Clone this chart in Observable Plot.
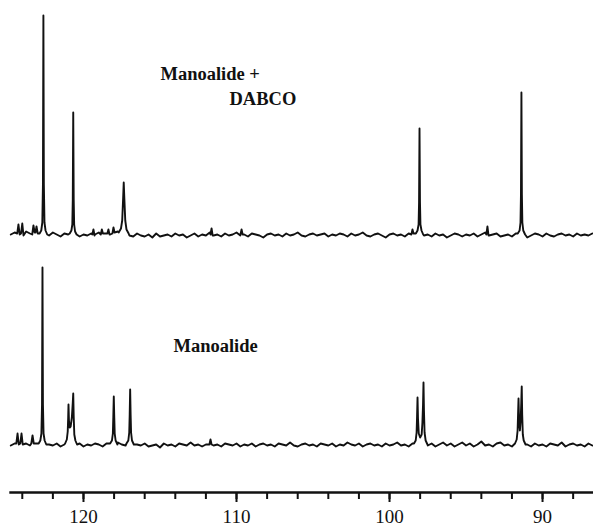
<!DOCTYPE html>
<html><head><meta charset="utf-8">
<script src="https://cdn.jsdelivr.net/npm/d3@7"></script>
<script src="https://cdn.jsdelivr.net/npm/@observablehq/plot@0.6"></script>
<style>body{margin:0;background:#fff}</style>
</head><body><div id="chart"></div>
<script>
// Sampled chemical-shift grid (ppm), read along the baseline
const gridPpm = [
124.75,124.5,124.25,124,123.75,123.5,123.25,123,122.75,122.5,
122.25,122,121.75,121.5,121.25,121,120.75,120.5,120.25,120,
119.75,119.5,119.25,119,118.75,118.5,118.25,118,117.75,117.5,
117.25,117,116.75,116.5,116.25,116,115.75,115.5,115.25,115,
114.75,114.5,114.25,114,113.75,113.5,113.25,113,112.75,112.5,
112.25,112,111.75,111.5,111.25,111,110.75,110.5,110.25,110,
109.75,109.5,109.25,109,108.75,108.5,108.25,108,107.75,107.5,
107.25,107,106.75,106.5,106.25,106,105.75,105.5,105.25,105,
104.75,104.5,104.25,104,103.75,103.5,103.25,103,102.75,102.5,
102.25,102,101.75,101.5,101.25,101,100.75,100.5,100.25,100,
99.75,99.5,99.25,99,98.75,98.5,98.25,98,97.75,97.5,
97.25,97,96.75,96.5,96.25,96,95.75,95.5,95.25,95,
94.75,94.5,94.25,94,93.75,93.5,93.25,93,92.75,92.5,
92.25,92,91.75,91.5,91.25,91,90.75,90.5,90.25,90,
89.75,89.5,89.25,89,88.75,88.5,88.25,88,87.75,87.5,
87.25,87,86.75];

// Baseline noise, Manoalide + DABCO (upper trace)
const noiseDabco = [
0,2,1,-1,3,1,0,2,0,1,
-1,2,0,-2,1,0,-1,1,-2,0,
-1,1,0,2,-1,1,0,2,3,1,
0,-1,-2,1,-1,-2,0,-3,1,-2,
-1,0,-2,1,-1,0,-3,-1,1,-2,
0,-1,2,-1,0,-2,1,-1,0,2,
-1,0,-2,1,0,-1,-3,0,1,-1,
0,-2,1,-1,0,2,-1,-2,0,1,
-1,0,1,-2,0,-1,1,0,-2,1,
-1,0,2,-1,-2,0,1,-1,-3,0,
1,-1,0,-2,1,0,-1,2,-1,0,
-2,1,-1,0,-3,-1,1,0,-2,0,
-1,1,-2,0,2,-1,0,1,-2,-1,
0,-2,1,-1,0,-3,-1,1,0,-2,
1,-1,-2,0,1,-1,0,-2,1,-1,
0,-1,1];

// Baseline noise, Manoalide (lower trace)
const noiseManoalide = [
-1,1,2,0,1,-1,2,1,0,1,
0,-1,1,-2,0,1,-1,0,1,-2,
0,-1,1,0,-2,1,-1,0,2,0,
-1,1,-2,0,-1,1,-2,-1,0,-3,
1,-1,0,-2,1,0,-1,2,-1,0,
-2,0,1,-1,0,-2,1,0,-1,1,
-2,0,-1,1,-2,0,1,-1,0,-2,
1,0,-1,2,-1,-2,0,1,-1,0,
-2,1,0,-1,1,-2,0,-1,2,0,
-1,1,-2,0,1,-1,0,-2,1,-1,
0,2,-1,0,-2,1,-1,0,2,-1,
1,-2,0,2,-1,1,-2,0,2,-1,
1,-2,0,3,-1,0,-2,1,2,-1,
0,-2,1,-1,2,0,-2,1,-1,0,
-2,1,0,-1,2,-2,0,1,-1,0,
-2,1,-1];

// Peak outlines [ppm, intensity], Manoalide + DABCO
const peaksDabco = [
 [[124.33,1],[124.25,10],[124.17,0]],
 [[124.08,1],[124.0,11],[123.92,-1]],
 [[123.35,0],[123.27,9],[123.19,2]],
 [[123.14,2],[123.07,8],[122.99,1]],
 [[122.87,1],[122.76,4],[122.69,12],[122.65,50],[122.62,219],[122.59,50],[122.55,12],[122.48,4],[122.37,0]],
 [[120.9,1],[120.79,4],[120.73,10],[120.7,35],[120.67,122],[120.64,35],[120.61,10],[120.55,3],[120.45,0]],
 [[119.42,0],[119.35,5],[119.28,-1]],
 [[118.87,0],[118.8,5],[118.73,1]],
 [[118.44,1],[118.37,5],[118.3,0]],
 [[118.11,1],[118.04,7],[117.97,2]],
 [[117.7,2],[117.55,6],[117.47,14],[117.41,36],[117.37,52],[117.33,36],[117.27,14],[117.19,5],[117.05,1]],
 [[111.7,0],[111.63,6],[111.56,-1]],
 [[109.74,0],[109.67,5],[109.6,0]],
 [[98.57,0],[98.5,5],[98.43,1]],
 [[98.28,1],[98.17,4],[98.1,10],[98.07,32],[98.04,106],[98.01,32],[97.98,10],[97.91,4],[97.8,0]],
 [[93.67,0],[93.6,8],[93.53,-1]],
 [[91.62,1],[91.5,4],[91.44,12],[91.41,40],[91.38,142],[91.35,40],[91.32,12],[91.26,4],[91.14,0]]
];

// Peak outlines [ppm, intensity], Manoalide
const peaksManoalide = [
 [[124.39,1],[124.31,11],[124.23,0]],
 [[124.13,1],[124.05,11],[123.97,0]],
 [[123.41,1],[123.33,9],[123.25,1]],
 [[122.93,1],[122.82,4],[122.75,11],[122.71,40],[122.68,177],[122.65,40],[122.61,11],[122.54,4],[122.43,0]],
 [[121.2,1],[121.09,5],[121.03,13],[121.0,27],[120.98,40],[120.95,24],[120.9,17],[120.84,18],[120.76,27],[120.7,42],[120.67,51],[120.64,28],[120.6,10],[120.53,4],[120.42,0]],
 [[118.26,1],[118.14,4],[118.08,11],[118.05,28],[118.02,48],[117.99,28],[117.96,11],[117.9,4],[117.78,0]],
 [[117.19,1],[117.07,4],[117.01,12],[116.98,30],[116.95,55],[116.92,30],[116.89,12],[116.83,4],[116.71,0]],
 [[111.77,0],[111.7,5],[111.63,0]],
 [[98.4,1],[98.29,4],[98.23,12],[98.2,28],[98.17,47],[98.14,26],[98.09,11],[98.0,7],[97.9,10],[97.85,22],[97.81,40],[97.78,62],[97.75,34],[97.71,12],[97.64,4],[97.52,0]],
 [[91.8,1],[91.69,5],[91.63,14],[91.6,30],[91.57,46],[91.53,22],[91.48,14],[91.43,24],[91.39,42],[91.36,58],[91.33,30],[91.29,10],[91.23,4],[91.11,0]]
];

const minorTicks = [88,90,92,94,96,98,100,102,104,106,108,110,112,114,116,118,120,122,124];
const majorTicks = [90,100,110,120];
const labels = ["Manoalide +", "DABCO", "Manoalide"];

// ---- layout (not data) ----
const serif = "Liberation Serif, Times New Roman, serif";
const traceOffset = {dabco: 210, manoalide: 0};
const labelAt = [[114.97, 365], [110.46, 340], [114.12, 93]];

function assemble(noise, peaks, trace) {
  const ext = peaks.map(g => d3.extent(g, d => d[0]));
  const base = gridPpm.map((p, i) => [p, noise[i]])
    .filter(([p]) => !ext.some(([a, b]) => p >= a && p <= b));
  return base.concat(peaks.flat())
    .sort((a, b) => b[0] - a[0])
    .map(([ppm, intensity]) => ({ppm, intensity, trace}));
}
const rows = assemble(noiseDabco, peaksDabco, "dabco")
  .concat(assemble(noiseManoalide, peaksManoalide, "manoalide"));

const chart = Plot.plot({
  width: 593, height: 528,
  marginTop: 0, marginBottom: 36, marginLeft: 10, marginRight: 0,
  x: {domain: [124.77, 86.67], label: null},
  y: {domain: [-48, 444], axis: null},
  style: {fontFamily: serif, background: "#fff", color: "#111"},
  marks: [
    Plot.line(rows, {x: "ppm", y: d => d.intensity + traceOffset[d.trace], z: "trace",
      stroke: "#111", strokeWidth: 1.9, strokeLinejoin: "round"}),
    Plot.frame({anchor: "bottom", stroke: "#111", strokeWidth: 2.4}),
    Plot.axisX({ticks: minorTicks, tickSize: 7, tickFormat: () => "", stroke: "#111", strokeWidth: 2}),
    Plot.axisX({ticks: majorTicks, tickSize: 10, tickPadding: 7, fontSize: 19,
      fontFamily: serif, stroke: "#111", fill: "#111", strokeWidth: 2, label: null}),
    Plot.text(labels, {
      x: (d, i) => labelAt[i][0], y: (d, i) => labelAt[i][1], text: d => d,
      textAnchor: "start", lineAnchor: "bottom", fontWeight: "bold", fontSize: 18.5,
      fontFamily: serif, fill: "#111"
    })
  ]
});
document.getElementById("chart").append(chart);
</script>
</body></html>
